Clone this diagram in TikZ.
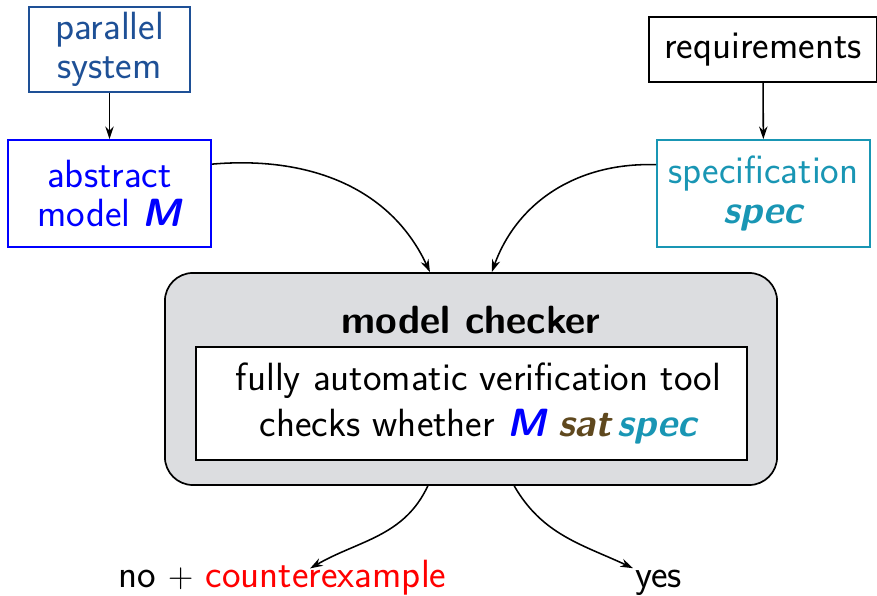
\documentclass[tikz,border=0pt]{standalone}
\usepackage{xcolor}
\usepackage{tikz}
\usetikzlibrary{arrows.meta, positioning}
\definecolor{sysblue}{RGB}{30,80,150}
\definecolor{modelblue}{RGB}{0,0,255}
\definecolor{specteal}{RGB}{25,150,180}
\definecolor{satbrown}{RGB}{95,72,30}
\definecolor{checkgray}{RGB}{220,221,224}
\newcommand{\bslant}[1]{{\bfseries\slshape #1}}

\begin{document}
\begin{tikzpicture}[x=0.025cm, y=-0.025cm,
    every node/.style={font=\fontsize{28}{28}\selectfont\sffamily},
    box/.style={draw, line width=1.2pt, align=center, inner sep=0pt},
    flow/.style={-{Stealth[length=9pt,width=6pt]}, line width=1.1pt}]
  \useasboundingbox (0,0) rectangle (877,596);
  % inputs
  \node[box, sysblue, minimum width=4.025cm, minimum height=2.125cm] (par) at (109.5,49.5) {parallel\\system};
  \node[box, modelblue, minimum width=5.075cm, minimum height=2.675cm] (abs) at (109.5,193.5) {abstract\\model \bslant{M}};
  \node[box, minimum width=5.7cm, minimum height=1.625cm] (req) at (763,49.5) {requirements};
  \node[box, specteal, minimum width=5.325cm, minimum height=2.675cm] (spec) at (763.5,193.5) {specification\\\bslant{spec}};
  \foreach \a/\b in {par/abs, req/spec}
    \draw[flow] (\a) -- (\b);
  % the checker
  \node[box, fill=checkgray, rounded corners=0.7cm, minimum width=15.3cm, minimum height=5.3cm] (chk) at (471,379) {};
  \node[font=\fontsize{28}{28}\selectfont\sffamily\bfseries] (title) at (471,320) {model checker};
  \node[box, fill=white, minimum width=13.775cm, minimum height=2.825cm] (tool) at (471.5,403.5)
    {\hspace*{10pt}fully automatic verification tool\\[5pt]
     \hspace*{10pt}checks whether \textcolor{modelblue}{\bslant{M}}\ \textcolor{satbrown}{\bslant{sat}}\,\textcolor{specteal}{\bslant{spec}}};
  \draw[flow] (abs.16) to[out=5, in=115] (chk.111);
  \draw[flow] (spec.165) to[out=178, in=70] (chk.79);
  % answers
  \node[anchor=base west, inner sep=0pt] (no) at (118,588) {no $+$};
  \node[base right=3mm of no, inner sep=0pt, red] (cex) {counterexample};
  \node[anchor=base west, inner sep=1.5pt] (yes) at (633,588) {yes};
  \draw[flow] (chk.248) to[out=245, in=30] ([shift={(-16,8)}]cex.north);
  \draw[flow] (chk.292) to[out=300, in=155] (yes.north west);
\end{tikzpicture}
\end{document}
